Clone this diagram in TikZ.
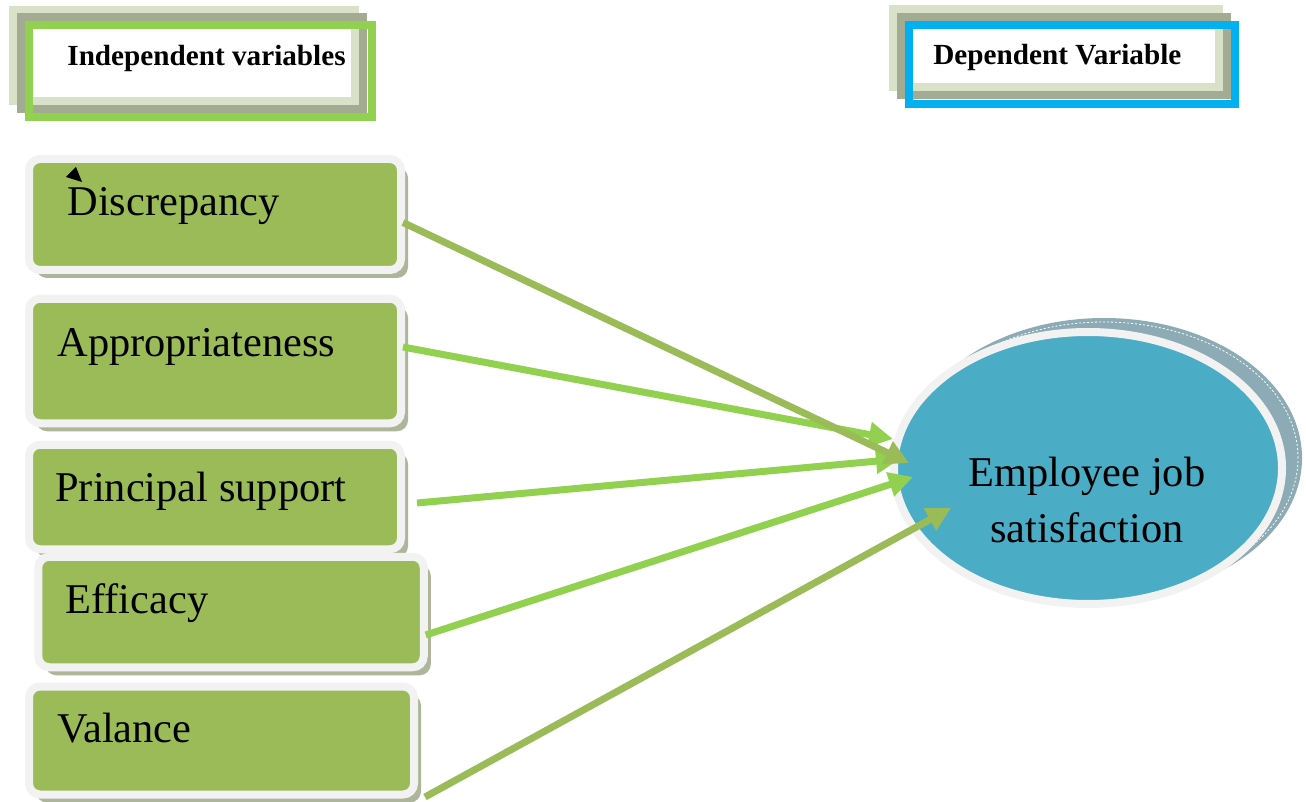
\documentclass[tikz,border=0pt]{standalone}
\usepackage{fontspec}
\setmainfont{Liberation Serif}
\usetikzlibrary{arrows.meta,shapes.geometric,shadows}
\definecolor{boxgreen}{HTML}{9BBB59}
\definecolor{rimgray}{HTML}{F2F2F2}
\definecolor{boxshadow}{HTML}{ADB69B}
\definecolor{lightgreen}{HTML}{92D050}
\definecolor{empblue}{HTML}{4BACC6}
\definecolor{empshadow}{HTML}{8DABB4}
\definecolor{backlight}{HTML}{D9E2C9}
\definecolor{backdark}{HTML}{A3AB93}
\definecolor{depblue}{HTML}{00B0F0}
\begin{document}
\begin{tikzpicture}[x=0.5pt,y=-0.5pt,
  varbox/.style={rectangle,rounded corners=5.5pt,fill=boxgreen,draw=rimgray,line width=4pt,
    general shadow={fill=boxshadow,shadow xshift=3.5pt,shadow yshift=-4pt}},
  vartext/.style={anchor=base west,inner sep=0pt,font=\fontsize{21.2}{25}\selectfont},
  headtext/.style={anchor=base west,inner sep=0pt,font=\bfseries\fontsize{14.6}{17}\selectfont},
  frame/.style={line width=4pt},
  link/.style={line width=3.5pt,-{Triangle[length=12pt,width=12pt]}}]
\useasboundingbox(0,0)rectangle(1306,802);
% stacked header frames
\draw[frame,backlight](13,10)rectangle(355,101);
\draw[frame,backdark](21,17)rectangle(363,109);
\draw[frame,lightgreen](29,25.5)rectangle(371.5,117.5);
\node[headtext](indep) at (67,66){Independent variables};
\draw[frame,backlight](893,9)rectangle(1219,87);
\draw[frame,backdark](901,17)rectangle(1227,95);
\draw[frame,depblue](909,25)rectangle(1235,104);
\node[headtext](dep) at (933,65){Dependent Variable};
% independent variable boxes
\foreach \n/\t/\x/\y/\w/\h/\tx/\ty in {
  disc/Discrepancy/215/214.5/186/55.5/67/216,
  appr/Appropriateness/215/361/186/62.25/57/357,
  prin/Principal support/215/497/186/52.25/55/501,
  effi/Efficacy/231/612/192.75/55.25/65/613,
  vala/Valance/221.5/740.5/192.5/54/57/742}{
  \node[varbox,minimum width=\w pt,minimum height=\h pt](\n) at (\x,\y){};
  \node[vartext](\n-txt) at (\tx,\ty){\t};
}
\fill(66,177)--(76,167)--(82,182)--cycle;
% dependent variable
\fill[empshadow](1104,458)ellipse[x radius=99pt,y radius=70pt];
\draw[white,line width=0.4pt,dash pattern=on 1pt off 1pt](1104,458)ellipse[x radius=97pt,y radius=68pt];
\node[ellipse,minimum width=194pt,minimum height=136pt,fill=empblue,draw=rimgray,line width=4pt](emp) at (1088,468){};
\node[align=center,inner sep=0pt,font=\fontsize{21.2}{28}\selectfont](emp-txt) at (1087,500){Employee job\\satisfaction};
% arrows
\coordinate(tip-disc) at (909,463);
\coordinate(tip-appr) at (893,439);
\coordinate(tip-prin) at (900,459);
\coordinate(tip-effi) at (913,477);
\coordinate(tip-vala) at (951,508);
\draw[link,lightgreen]([shift={(-1pt,7pt)}]appr.east)--(tip-appr);
\draw[link,lightgreen]([shift={(6pt,-3pt)}]prin.east)--(tip-prin);
\draw[link,lightgreen]([shift={(-1pt,-11.5pt)}]effi.east)--(tip-effi);
\draw[link,boxgreen]([shift={(-1pt,-4pt)}]disc.east)--(tip-disc);
\draw[link,boxgreen]([shift={(3.5pt,0.75pt)}]vala.south east)--(tip-vala);
\end{tikzpicture}
\end{document}
